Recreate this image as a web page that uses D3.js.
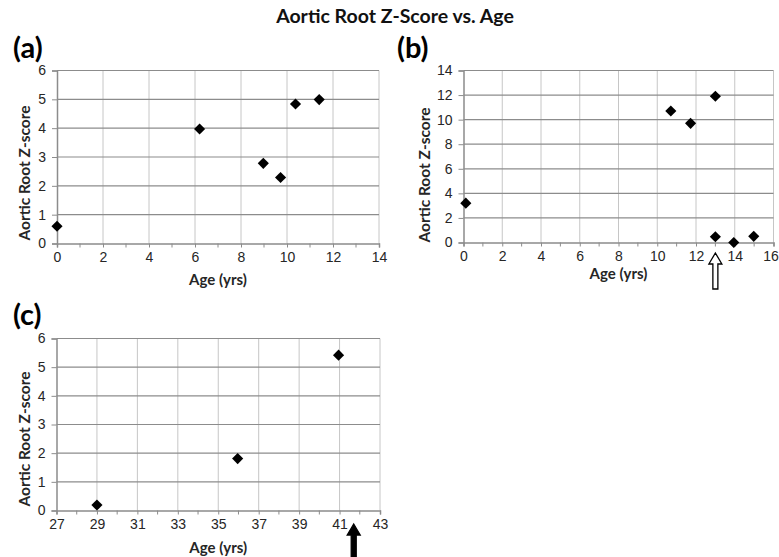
<!DOCTYPE html>
<html>
<head>
<meta charset="utf-8">
<script src="https://cdn.jsdelivr.net/npm/d3@7"></script>
<style>
  body { margin: 0; background: #fff; }
  svg { display: block; font-family: Lato, 'Open Sans', sans-serif; }
</style>
</head>
<body>
<div id="chart"></div>
<script>
// Panel (a)
const AGE_A = [0, 6.2, 8.97, 9.72, 10.37, 11.4]
const Z_A = [0.6, 3.97, 2.78, 2.29, 4.84, 4.99]
// Panel (b)
const AGE_B = [0.12, 10.7, 11.72, 13.0, 13.0, 13.95, 14.98]
const Z_B = [3.2, 10.7, 9.7, 11.9, 0.47, 0, 0.5]
// Panel (c)
const AGE_C = [29, 35.96, 40.95]
const Z_C = [0.19, 1.81, 5.42]

const TICKS_X_A = [0, 2, 4, 6, 8, 10, 12, 14]
const TICKS_Y_A = [0, 1, 2, 3, 4, 5, 6]
const TICKS_X_B = [0, 2, 4, 6, 8, 10, 12, 14, 16]
const TICKS_Y_B = [0, 2, 4, 6, 8, 10, 12, 14]
const TICKS_X_C = [27, 29, 31, 33, 35, 37, 39, 41, 43]
const TICKS_Y_C = [0, 1, 2, 3, 4, 5, 6]

const ARROW_B = [13.0] // hollow arrow
const ARROW_C = [41.7] // solid arrow

const WIDTH = 779
const HEIGHT = 557
const TEXT = '#262626'

const svg = d3.select('#chart').append('svg')
  .attr('width', WIDTH)
  .attr('height', HEIGHT)

svg.append('text')
  .attr('x', 395).attr('y', 23)
  .attr('text-anchor', 'middle')
  .style('font-size', '19.5px').style('font-weight', 'bold').style('fill', '#111')
  .text('Aortic Root Z-Score vs. Age')

function panel (cfg) {
  const x = d3.scaleLinear().domain(d3.extent(cfg.xt)).range(cfg.xr)
  const y = d3.scaleLinear().domain(d3.extent(cfg.yt)).range(cfg.yr)
  const g = svg.append('g')

  // letter
  g.append('text')
    .attr('x', cfg.lab[0]).attr('y', cfg.lab[1])
    .style('font-size', '29px').style('font-weight', 'bold').style('fill', '#000')
    .text(cfg.name)

  // vertical grid
  g.append('g').selectAll('line').data(cfg.xt.slice(1)).join('line')
    .attr('x1', d => x(d)).attr('x2', d => x(d))
    .attr('y1', cfg.yr[0]).attr('y2', cfg.yr[1])
    .attr('stroke', '#c6c6c6').attr('stroke-width', 1)

  // horizontal grid
  g.append('g').selectAll('line').data(cfg.yt.slice(1)).join('line')
    .attr('x1', cfg.xr[0]).attr('x2', cfg.xr[1])
    .attr('y1', d => y(d)).attr('y2', d => y(d))
    .attr('stroke', '#8c8c8c').attr('stroke-width', 1.2)

  // x axis with minor ticks
  const minor = d3.range(cfg.xt.length - 1).map(i => (cfg.xt[i] + cfg.xt[i + 1]) / 2)
  const xa = g.append('g').attr('transform', `translate(0,${cfg.yr[0]})`)
    .call(d3.axisBottom(x).tickValues(cfg.xt).tickSize(4).tickPadding(5).tickFormat(d3.format('d')))
  xa.append('g').selectAll('line').data(minor).join('line')
    .attr('x1', d => x(d)).attr('x2', d => x(d))
    .attr('y1', 0).attr('y2', 4).attr('stroke', '#8c8c8c')

  const ya = g.append('g').attr('transform', `translate(${cfg.xr[0]},0)`)
    .call(d3.axisLeft(y).tickValues(cfg.yt).tickSize(5).tickPadding(6).tickFormat(d3.format('d')))

  ;[xa, ya].forEach(a => {
    a.select('.domain').attr('stroke', '#8c8c8c').attr('stroke-width', 1.5)
    a.selectAll('.tick line').attr('stroke', '#8c8c8c')
    a.selectAll('.tick text').style('font-size', '14px').style('fill', TEXT)
  })
  // keep a label that would run past the page edge inside it
  xa.selectAll('.tick text').filter(d => x(d) > WIDTH - 10).attr('dx', '-3')

  // axis titles
  g.append('text')
    .attr('x', (cfg.xr[0] + cfg.xr[1]) / 2).attr('y', cfg.xlabY)
    .attr('text-anchor', 'middle')
    .style('font-size', '15px').style('font-weight', 'bold').style('fill', TEXT)
    .text('Age (yrs)')

  g.append('text')
    .attr('transform', `translate(${cfg.ylab[0]},${cfg.ylab[1]}) rotate(-90)`)
    .attr('text-anchor', 'middle')
    .style('font-size', '15.5px').style('font-weight', 'bold').style('fill', TEXT)
    .text('Aortic Root Z-score')

  // diamonds
  g.append('g').selectAll('path').data(cfg.ages).join('path')
    .attr('transform', (d, i) => `translate(${x(d)},${y(cfg.z[i])}) rotate(45)`)
    .attr('d', d3.symbol(d3.symbolSquare, 62))
    .attr('fill', '#000')

  // arrows
  g.append('g').selectAll('path').data(cfg.arrows).join('path')
    .attr('transform', d => `translate(${x(d)},${cfg.arrowTop})`)
    .attr('d', 'M0,0 L6.5,11 L2.5,11 L2.5,36 L-2.5,36 L-2.5,11 L-6.5,11 Z')
    .attr('fill', cfg.arrowFill)
    .attr('stroke', '#000').attr('stroke-width', 1.3)
}

panel({
  name: '(a)', lab: [13, 58],
  ages: AGE_A, z: Z_A, xt: TICKS_X_A, yt: TICKS_Y_A,
  xr: [57, 379], yr: [243.5, 70.5],
  xlabY: 285, ylab: [30, 173],
  arrows: [], arrowTop: 0, arrowFill: '#fff'
})

panel({
  name: '(b)', lab: [397, 58],
  ages: AGE_B, z: Z_B, xt: TICKS_X_B, yt: TICKS_Y_B,
  xr: [463.5, 773.5], yr: [242.5, 70.5],
  xlabY: 279, ylab: [430, 175],
  arrows: ARROW_B, arrowTop: 253, arrowFill: '#fff'
})

panel({
  name: '(c)', lab: [13, 325],
  ages: AGE_C, z: Z_C, xt: TICKS_X_C, yt: TICKS_Y_C,
  xr: [56.5, 380], yr: [510.5, 338.5],
  xlabY: 553, ylab: [30, 439],
  arrows: ARROW_C, arrowTop: 524, arrowFill: '#000'
})
</script>
</body>
</html>
